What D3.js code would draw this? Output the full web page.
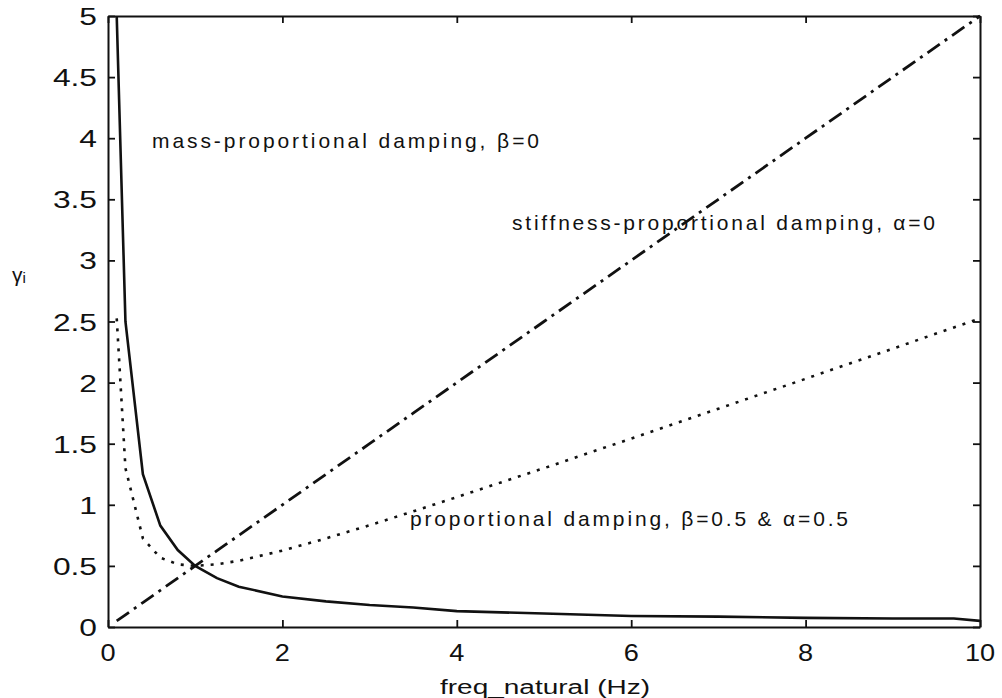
<!DOCTYPE html>
<html><head><meta charset="utf-8">
<script src="https://cdn.jsdelivr.net/npm/d3@7"></script>
<style>html,body{margin:0;padding:0;background:#fff;}svg{display:block;}</style>
</head><body>
<svg id="chart" width="1002" height="698"></svg>
<script>
const freq      = [0.1, 0.2, 0.4, 0.6, 0.8, 1, 1.25, 1.5, 2, 2.5, 3, 3.5, 4, 5, 6, 7, 8, 9, 9.7, 10];
const massProp  = [5, 2.5, 1.25, 0.83, 0.63, 0.5, 0.4, 0.33, 0.25, 0.21, 0.18, 0.16, 0.13, 0.11, 0.09, 0.085, 0.075, 0.07, 0.07, 0.05];
const stiffProp = [0.05, 0.1, 0.2, 0.3, 0.4, 0.5, 0.625, 0.75, 1, 1.25, 1.5, 1.75, 2, 2.5, 3, 3.5, 4, 4.5, 4.85, 5];
const propDamp  = [2.525, 1.3, 0.725, 0.567, 0.513, 0.5, 0.513, 0.542, 0.625, 0.725, 0.833, 0.946, 1.063, 1.3, 1.542, 1.786, 2.031, 2.278, 2.451, 2.525];
const xTicks = [0, 2, 4, 6, 8, 10];
const yTicks = [0, 0.5, 1, 1.5, 2, 2.5, 3, 3.5, 4, 4.5, 5];

const svg = d3.select("#chart");
const L = 108, R = 980, T = 16, B = 627;
const x = d3.scaleLinear().domain([0, 10]).range([L, R]);
const y = d3.scaleLinear().domain([0, 5]).range([B, T]);
const font = "'Liberation Sans', Arial, sans-serif";

// axes with inward ticks on all sides
const tl = 7;
const gB = svg.append("g").attr("transform", `translate(0,${B})`)
  .call(d3.axisBottom(x).tickValues(xTicks).tickSizeInner(-tl).tickSizeOuter(0).tickFormat(""));
const gT = svg.append("g").attr("transform", `translate(0,${T})`)
  .call(d3.axisTop(x).tickValues(xTicks).tickSizeInner(-tl).tickSizeOuter(0).tickFormat(""));
const gL = svg.append("g").attr("transform", `translate(${L},0)`)
  .call(d3.axisLeft(y).tickValues(yTicks).tickSizeInner(-tl).tickSizeOuter(0).tickFormat(""));
const gR = svg.append("g").attr("transform", `translate(${R},0)`)
  .call(d3.axisRight(y).tickValues(yTicks).tickSizeInner(-tl).tickSizeOuter(0).tickFormat(""));
[gB, gT, gL, gR].forEach(g => {
  g.selectAll("path.domain").attr("stroke", "#111").attr("stroke-width", 2);
  g.selectAll(".tick line").attr("stroke", "#111").attr("stroke-width", 1.8);
});

// tick labels
svg.append("g").selectAll("text").data(xTicks).join("text")
  .attr("transform", d => `translate(${x(d)},661) scale(1.18,1)`)
  .attr("text-anchor", "middle").attr("font-family", font).attr("font-size", 23)
  .attr("fill", "#111").text(d => d);
svg.append("g").selectAll("text").data(yTicks).join("text")
  .attr("transform", d => `translate(97,${y(d) + 9}) scale(1.38,1)`)
  .attr("text-anchor", "end").attr("font-family", font).attr("font-size", 23)
  .attr("fill", "#111").text(d => d);

// axis titles
svg.append("text").attr("x", 545).attr("y", 694).attr("text-anchor", "middle")
  .attr("font-family", font).attr("font-size", 20).attr("fill", "#111")
  .attr("textLength", 210).attr("lengthAdjust", "spacingAndGlyphs")
  .text("freq_natural (Hz)");
const yl = svg.append("text").attr("x", 12).attr("y", 282)
  .attr("font-family", font).attr("font-size", 21).attr("fill", "#111");
yl.append("tspan").text("γ");
yl.append("tspan").attr("font-size", 15).attr("dy", 1).text("i");

// series
svg.append("clipPath").attr("id", "plotclip").append("rect")
  .attr("x", L).attr("y", T - 2).attr("width", R - L).attr("height", B - T + 2);
const line = d3.line().x(d => x(d[0])).y(d => y(d[1]));
const plot = svg.append("g").attr("clip-path", "url(#plotclip)");
plot.append("path").datum(freq.map((f, i) => [f, massProp[i]]))
  .attr("d", line).attr("fill", "none").attr("stroke", "#111").attr("stroke-width", 2.6);
plot.append("path").datum(freq.map((f, i) => [f, stiffProp[i]]))
  .attr("d", line).attr("fill", "none").attr("stroke", "#111").attr("stroke-width", 2.8)
  .attr("stroke-dasharray", "15,6,3,6");
plot.append("path").datum(freq.map((f, i) => [f, propDamp[i]]))
  .attr("d", line).attr("fill", "none").attr("stroke", "#111").attr("stroke-width", 2.6)
  .attr("stroke-dasharray", "3,7");

// annotations
const notes = [
  {t: "mass-proportional damping, β=0", x: 152, y: 148, w: 387},
  {t: "stiffness-proportional damping, α=0", x: 512, y: 230, w: 423},
  {t: "proportional damping, β=0.5 & α=0.5", x: 410, y: 526, w: 438}
];
svg.append("g").selectAll("text").data(notes).join("text")
  .attr("x", d => d.x).attr("y", d => d.y)
  .attr("font-family", font).attr("font-size", 21).attr("fill", "#111")
  .attr("textLength", d => d.w).attr("lengthAdjust", "spacing")
  .text(d => d.t);
</script>
</body></html>
